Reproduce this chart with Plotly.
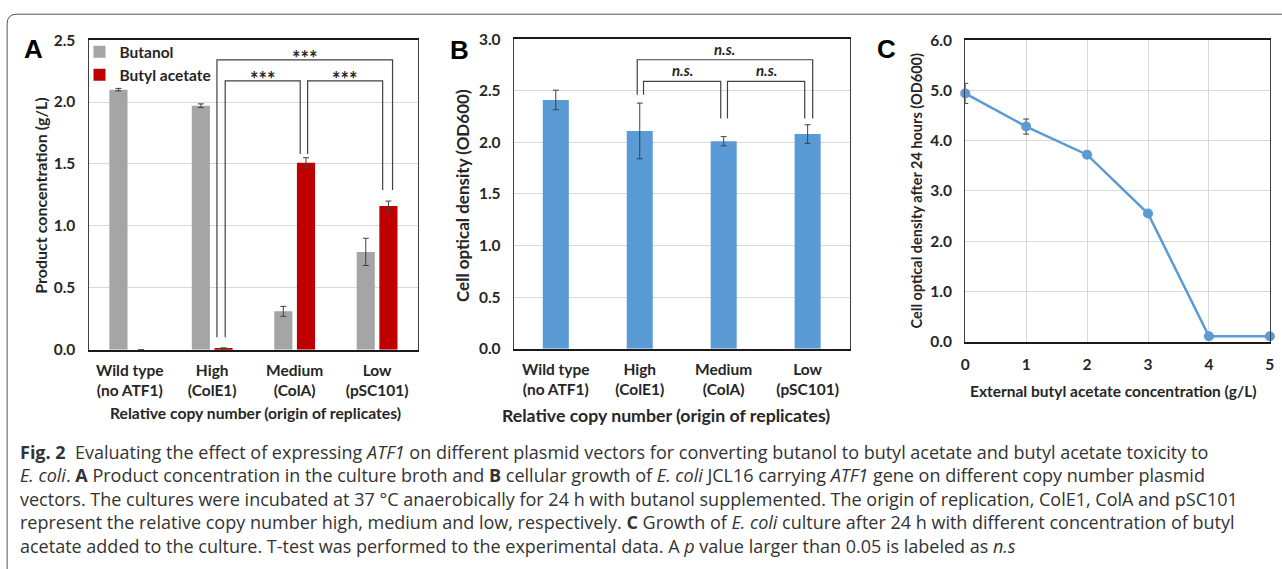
import plotly.graph_objects as go

W, H = 1282, 569
# the captured page (figure + 8 px body margin on each side) is fitted back into 1282x569,
# so layout positions measured on the reference are mapped through that fit
SX, SY = (W + 16) / W, (H + 16) / H
OFF = 8

# ---------------- data ----------------
categories = ["Wild type<br>(no ATF1)", "High<br>(ColE1)", "Medium<br>(ColA)", "Low<br>(pSC101)"]
butanol = [2.10, 1.97, 0.31, 0.79]
butanol_err = [0.01, 0.015, 0.04, 0.11]
butyl_acetate = [0.0, 0.01, 1.51, 1.16]
butyl_acetate_err = [0.0, 0.005, 0.04, 0.04]

od600 = [2.41, 2.11, 2.01, 2.08]
od600_err = [0.095, 0.27, 0.045, 0.09]

ext_ba = [0, 1, 2, 3, 4, 5]
od_24h = [4.94, 4.28, 3.72, 2.55, 0.11, 0.11]
od_24h_err = [0.2, 0.15, 0.07, 0.03, 0.02, 0.02]

ticks_A = [0.0, 0.5, 1.0, 1.5, 2.0, 2.5]
ticks_B = [0.0, 0.5, 1.0, 1.5, 2.0, 2.5, 3.0]
ticks_C = [0.0, 1.0, 2.0, 3.0, 4.0, 5.0, 6.0]

# significance brackets: (left category, right category, level, left leg bottom, right leg bottom, label)
brackets_A = [(1, 2, 2.17, 0.10, 1.58, "***"), (2, 3, 2.17, 1.58, 1.29, "***"), (1, 3, 2.34, 0.10, 1.29, "***")]
brackets_B = [(1, 2, 2.59, 2.46, 2.23, "n.s."), (2, 3, 2.59, 2.23, 2.23, "n.s."), (1, 3, 2.80, 2.46, 2.23, "n.s.")]

GRAY, RED, BLUE = "#A5A5A5", "#C00000", "#5B9BD5"
FONT = "Lato"
TXT = "#262626"


def fx(px):
    return min(max((px * SX - OFF) / W, 0.0), 1.0)


def fy(py):
    return min(max(1 - (py * SY - OFF) / H, 0.0), 1.0)


def px_x(a, b):
    return [fx(a), fx(b)]


def px_y(top, bottom):
    return [fy(bottom), fy(top)]


xs = list(range(len(categories)))
fig = go.Figure()

err_style = dict(thickness=1, width=3, color="#404040")

fig.add_trace(go.Bar(x=xs, y=butanol, name="Butanol", marker=dict(color=GRAY, line=dict(width=0)),
                     error_y=dict(type="data", array=butanol_err, **err_style), xaxis="x", yaxis="y"))
fig.add_trace(go.Bar(x=xs, y=butyl_acetate, name="Butyl acetate", marker=dict(color=RED, line=dict(width=0)),
                     error_y=dict(type="data", array=butyl_acetate_err, **err_style), xaxis="x", yaxis="y"))
fig.add_trace(go.Bar(x=xs, y=od600, name="OD600", showlegend=False, marker=dict(color=BLUE, line=dict(width=0)),
                     width=0.31,
                     error_y=dict(type="data", array=od600_err, **err_style), xaxis="x2", yaxis="y2"))
fig.add_trace(go.Scatter(x=ext_ba, y=od_24h, mode="lines+markers", showlegend=False,
                         line=dict(color=BLUE, width=2.5), marker=dict(color=BLUE, size=10),
                         error_y=dict(type="data", array=od_24h_err, **err_style),
                         cliponaxis=False, xaxis="x3", yaxis="y3"))

tickfont = dict(family=FONT, size=15.5, color=TXT, weight="bold")
common_y = dict(showgrid=True, gridcolor="#D9D9D9", gridwidth=1, zeroline=False, showline=True,
                linecolor="#404040", linewidth=1.2, mirror=True, ticks="outside", ticklen=9,
                tickcolor="rgba(0,0,0,0)", tickfont=tickfont, tickformat=".1f")
common_x = dict(showgrid=False, zeroline=False, showline=True, linecolor="#1a1a1a", linewidth=1.5,
                mirror=True, ticks="outside", ticklen=6, tickcolor="rgba(0,0,0,0)", tickfont=tickfont)

fig.update_layout(
    width=W, height=H, margin=dict(l=0, r=0, t=0, b=0),
    paper_bgcolor="white", plot_bgcolor="white",
    barmode="group", bargap=0.45, bargroupgap=0.2,
    font=dict(family=FONT, color=TXT),
    xaxis=dict(domain=px_x(91, 419), anchor="y", range=[-0.5, 3.5], tickvals=xs, ticktext=categories, **common_x),
    yaxis=dict(domain=px_y(38, 349), anchor="x", range=[0, 2.5], tickvals=ticks_A, **common_y),
    xaxis2=dict(domain=px_x(514, 848), anchor="y2", range=[-0.5, 3.5], tickvals=xs, ticktext=categories, **common_x),
    yaxis2=dict(domain=px_y(37, 348), anchor="x2", range=[0, 3.0], tickvals=ticks_B, **common_y),
    xaxis3=dict(domain=px_x(963, 1266), anchor="y3", range=[0, 5], dtick=1, **{**common_x, "showgrid": True,
                                                                               "gridcolor": "#D9D9D9",
                                                                               "ticklen": 8}),
    yaxis3=dict(domain=px_y(38, 341), anchor="x3", range=[0, 6], tickvals=ticks_C, **common_y),
    legend=dict(x=fx(82), y=fy(33), xanchor="left", yanchor="top", bgcolor="rgba(0,0,0,0)",
                font=dict(family=FONT, size=15.5, color=TXT, weight="bold"), tracegroupgap=0,
                itemwidth=30),
)

shapes = []
annotations = []

# brackets for A (centered on butyl acetate bars)
slot = (1 - 0.45) / 2
ba_off = slot / 2
for l, r, lev, lb, rb, lab in brackets_A:
    outer = (r - l) > 1
    xl = l + ba_off + (-0.08 if outer else 0.02)
    xr = r + ba_off + (0.05 if outer else -0.07)
    shapes.append(dict(type="path", xref="x", yref="y",
                       path=f"M{xl},{lb} L{xl},{lev} L{xr},{lev} L{xr},{rb}",
                       line=dict(color="#404040", width=1.2)))
    annotations.append(dict(x=(xl + xr) / 2, y=lev, xref="x", yref="y", text=lab, showarrow=False,
                            yanchor="bottom", yshift=-12, font=dict(family=FONT, size=20, color=TXT, weight="bold")))

for l, r, lev, lb, rb, lab in brackets_B:
    outer = (r - l) > 1
    xl = l + (-0.03 if outer else 0.045)
    xr = r + (0.06 if outer else -0.035)
    shapes.append(dict(type="path", xref="x2", yref="y2",
                       path=f"M{xl},{lb} L{xl},{lev} L{xr},{lev} L{xr},{rb}",
                       line=dict(color="#404040", width=1.2)))
    annotations.append(dict(x=(xl + xr) / 2, y=lev, xref="x2", yref="y2", text=f"<i>{lab}</i>", showarrow=False,
                            yanchor="bottom", yshift=0, font=dict(family=FONT, size=15, color=TXT, weight="bold")))

# outer rounded frame
x0, y0 = fx(10), fy(12)
rx, ry = 10 / W, 10 / H
shapes.append(dict(type="path", xref="paper", yref="paper", layer="below",
                   path=f"M{x0},-0.05 L{x0},{y0 - ry} Q{x0},{y0} {x0 + rx},{y0} L1.05,{y0}",
                   line=dict(color="#555555", width=1)))


def ann(text, x, y, size, angle=0, xanchor="center", yanchor="middle", weight="bold", family=FONT, color=TXT,
        align="center"):
    annotations.append(dict(text=text, x=fx(x), y=fy(y), xref="paper", yref="paper", showarrow=False,
                            xanchor=xanchor, yanchor=yanchor, textangle=angle, align=align,
                            font=dict(family=family, size=size, color=color, weight=weight)))


# panel letters
ann("A", 36, 47, 26, family="Liberation Sans", color="black")
ann("B", 460, 48, 26, family="Liberation Sans", color="black")
ann("C", 885, 47, 26, family="Liberation Sans", color="black")

# axis titles
ann("Product concentration (g/L)", 43, 194, 16, angle=-90)
ann("Relative copy number (origin of replicates)", 257, 413, 15.7)
ann("Cell optical density (OD600)", 463, 194, 17, angle=-90)
ann("Relative copy number (origin of replicates)", 665, 415, 17.7)
ann("Cell optical density after 24 hours (OD600)", 914, 189, 14.5, angle=-90)
ann("External butyl acetate concentration (g/L)", 1110, 390, 15.5)

# caption
caption_lines = [
    "<b>Fig. 2</b>  Evaluating the effect of expressing <i>ATF1</i> on different plasmid vectors for converting butanol to butyl acetate and butyl acetate toxicity to",
    "<i>E. coli</i>. <b>A</b> Product concentration in the culture broth and <b>B</b> cellular growth of <i>E. coli</i> JCL16 carrying <i>ATF1</i> gene on different copy number plasmid",
    "vectors. The cultures were incubated at 37 °C anaerobically for 24 h with butanol supplemented. The origin of replication, ColE1, ColA and pSC101",
    "represent the relative copy number high, medium and low, respectively. <b>C</b> Growth of <i>E. coli</i> culture after 24 h with different concentration of butyl",
    "acetate added to the culture. T-test was performed to the experimental data. A <i>p</i> value larger than 0.05 is labeled as <i>n.s</i>",
]
ann("<br>".join(caption_lines), 21, 499, 18, xanchor="left", weight="normal", family="Open Sans",
    color="#333333", align="left")

fig.update_layout(shapes=shapes, annotations=annotations)
fig.write_html("out.html")
